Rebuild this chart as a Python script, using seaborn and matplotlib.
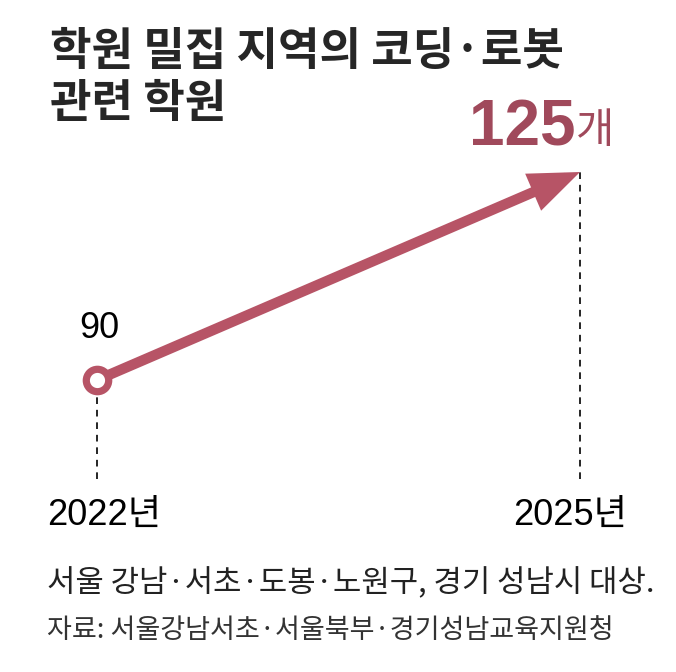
import matplotlib
matplotlib.use("Agg")
import matplotlib.pyplot as plt
import seaborn as sns
import pandas as pd

years = [2022, 2025]
year_labels = ["2022년", "2025년"]
counts = [90, 125]
value_labels = ["90", "125"]
unit = "개"

title_lines = ["학원 밀집 지역의 코딩·로봇", "관련 학원"]
note = "서울 강남·서초·도봉·노원구, 경기 성남시 대상."
source = "자료: 서울강남서초·서울북부·경기성남교육지원청"

sns.set_theme(style="white")
plt.rcParams["font.family"] = ["Liberation Sans", "Noto Sans CJK KR", "DejaVu Sans"]

LINE = "#b75466"
DARK = "#a0495b"

df = pd.DataFrame({"year": years, "count": counts})

fig = plt.figure(figsize=(6.76, 6.72), dpi=100)
ax = fig.add_axes([0, 0, 1, 1])
ax.set_xlim(2021.3975, 2025.596)
ax.set_ylim(40.87, 153.94)
ax.axis("off")

floor = 73.3

# dashed guides
ax.vlines(df["year"], floor, df["count"], colors="black", linestyles=(0, (4, 3.5)),
          linewidth=1.2, zorder=1)

# arrow from first to last point
ax.annotate("", xy=(years[-1], counts[-1]), xytext=(years[0], counts[0]),
            arrowprops=dict(arrowstyle="-|>,head_length=1.9,head_width=0.75",
                            lw=7.5, color=LINE, shrinkA=0, shrinkB=0,
                            joinstyle="miter", capstyle="butt"),
            zorder=2)

# start marker
sns.scatterplot(data=df.iloc[:1], x="year", y="count", ax=ax, s=260,
                color="white", edgecolor=LINE, linewidth=5.2, zorder=3, legend=False)
ax.set_xlabel("")
ax.set_ylabel("")

# value labels
ax.annotate(value_labels[0], (years[0], counts[0]), xytext=(2, 52),
            textcoords="offset pixels", ha="center", va="center",
            fontsize=26, color="black")
ax.annotate(value_labels[1], (years[1], counts[1]), xytext=(-58, 26),
            textcoords="offset pixels", ha="center", va="baseline",
            fontsize=46, fontweight="bold", color=DARK)
ax.annotate(unit, (years[1], counts[1]), xytext=(15, 29),
            textcoords="offset pixels", ha="center", va="baseline",
            fontsize=30, color=DARK, family=["Noto Sans CJK KR"])

# year labels
for yr, lab, dx in zip(years, year_labels, [7, -10]):
    ax.annotate(lab, (yr, floor), xytext=(dx, -36), textcoords="offset pixels",
                ha="center", va="center", fontsize=26, color="black")

for line, ypix in zip(title_lines, [52, 104]):
    fig.text(50 / 676, 1 - ypix / 672, line, ha="left", va="center", fontsize=32.5,
             fontweight="bold", family=["Noto Sans CJK KR"])
fig.text(47 / 676, 1 - 583 / 672, note, ha="left", va="center", fontsize=22.2,
         color="#222222", family=["Noto Sans CJK KR"])
fig.text(47 / 676, 1 - 631 / 672, source, ha="left", va="center", fontsize=19.5,
         color="#333333", family=["Noto Sans CJK KR"])

fig.savefig("out.png", dpi=100, facecolor="white")
